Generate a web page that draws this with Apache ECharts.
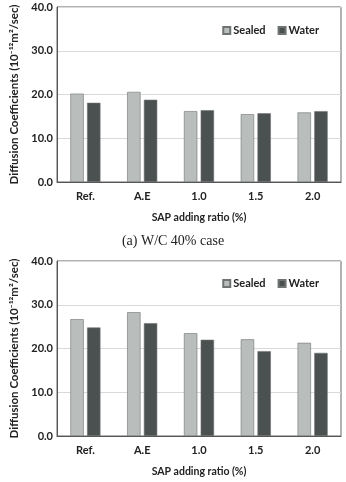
<!DOCTYPE html>
<html>
<head>
<meta charset="utf-8">
<script src="https://cdn.jsdelivr.net/npm/echarts@6/dist/echarts.min.js"></script>
<style>
  html, body { margin: 0; padding: 0; background: #fff; }
  #chart { width: 346px; height: 482px; }
</style>
</head>
<body>
<div id="chart"></div>
<script>
// categories and values
var categories = ["Ref.", "A.E", "1.0", "1.5", "2.0"];
var sealedA = [20.2, 20.6, 16.2, 15.5, 15.9]; // W/C 40%
var waterA = [18.1, 18.8, 16.4, 15.7, 16.2];
var sealedB = [26.7, 28.3, 23.5, 22.1, 21.3]; // second panel
var waterB = [24.8, 25.8, 22.0, 19.4, 19.0];
var caption = "(a) W/C 40% case";

var font = "Lato, 'Open Sans', sans-serif";
var sealedColor = "#b9bdbb";
var waterColor = "#4b5050";

function xAxisFor(idx) {
  return {
    type: "category",
    gridIndex: idx,
    data: categories,
    axisTick: { show: false },
    axisLine: { lineStyle: { color: "#555", width: 1 } },
    axisLabel: { margin: 9, color: "#222", fontSize: 11, fontWeight: "bold", fontFamily: font },
    name: "SAP adding ratio (%)",
    nameLocation: "middle",
    nameGap: 30,
    nameTextStyle: { color: "#222", fontSize: 10.5, fontWeight: "bold", fontFamily: font }
  };
}

function yAxisFor(idx) {
  return {
    type: "value",
    gridIndex: idx,
    min: 0,
    max: 40,
    interval: 10,
    axisLine: { show: true, lineStyle: { color: "#555" } },
    axisTick: { show: false },
    splitLine: { lineStyle: { color: "#d9d9d9" } },
    axisLabel: {
      margin: 4, color: "#222", fontSize: 11, fontWeight: "bold", fontFamily: font,
      formatter: function (v) { return v.toFixed(1); }
    },
    name: "Diffusion Coefficients (10\u207B\u00B9\u00B2m\u00B2/sec)",
    nameLocation: "middle",
    nameRotate: 90,
    nameGap: 37,
    nameTextStyle: { color: "#222", fontSize: 11.5, fontWeight: "bold", fontFamily: font }
  };
}

function barSeries(name, data, idx, color) {
  return {
    name: name,
    type: "bar",
    xAxisIndex: idx,
    yAxisIndex: idx,
    data: data,
    barGap: "25%",
    barCategoryGap: "47%",
    itemStyle: { color: color, borderColor: "#6f7472", borderWidth: 0.6 }
  };
}

function legendAt(top) {
  return {
    data: ["Sealed", "Water"],
    right: 22,
    top: top,
    icon: "rect",
    itemWidth: 7,
    itemHeight: 7,
    itemGap: 12,
    textStyle: { color: "#222", fontSize: 11, fontWeight: "bold", fontFamily: font, padding: [0, 0, 0, -2] }
  };
}

var option = {
  animation: false,
  title: {
    text: caption,
    left: "center",
    top: 229,
    textStyle: { fontFamily: "'Liberation Serif', serif", fontSize: 14, fontWeight: "normal", color: "#222" }
  },
  legend: [legendAt(20), legendAt(273)],
  grid: [
    { left: 51, top: 7, width: 290, height: 175, show: true, borderColor: "#666", borderWidth: 1 },
    { left: 51, top: 261, width: 290, height: 175, show: true, borderColor: "#666", borderWidth: 1 }
  ],
  xAxis: [xAxisFor(0), xAxisFor(1)],
  yAxis: [yAxisFor(0), yAxisFor(1)],
  series: [
    barSeries("Sealed", sealedA, 0, sealedColor),
    barSeries("Water", waterA, 0, waterColor),
    barSeries("Sealed", sealedB, 1, sealedColor),
    barSeries("Water", waterB, 1, waterColor)
  ]
};

var myChart = echarts.init(document.getElementById("chart"));
myChart.setOption(option);
</script>
</body>
</html>
